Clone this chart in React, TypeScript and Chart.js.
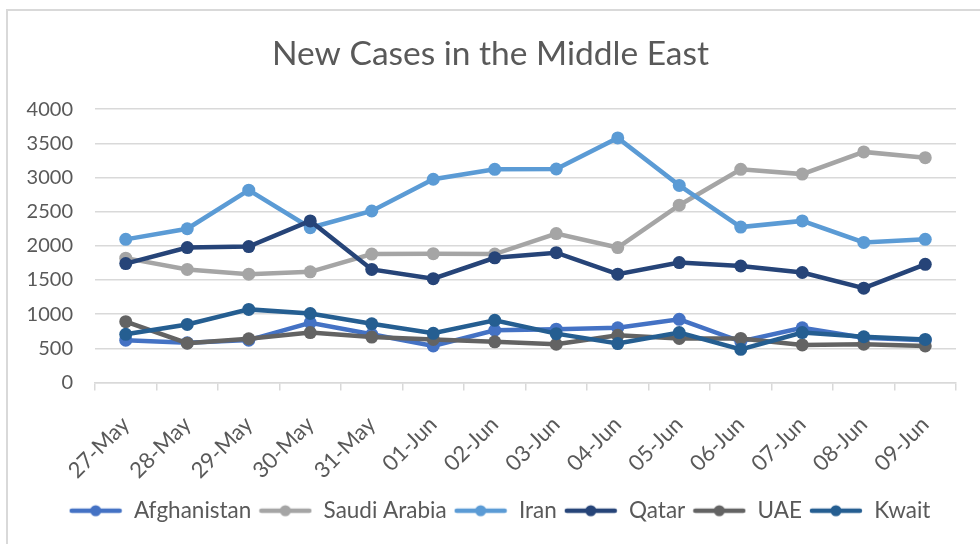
import React, { useEffect, useRef } from "react";
import { Chart, registerables } from "chart.js";

Chart.register(...registerables);

const categories = ["27-May", "28-May", "29-May", "30-May", "31-May", "01-Jun", "02-Jun", "03-Jun", "04-Jun", "05-Jun", "06-Jun", "07-Jun", "08-Jun", "09-Jun"];
const afghanistan = [620, 580, 620, 875, 705, 535, 765, 780, 800, 925, 600, 800, 655, 620];
const saudiArabia = [1820, 1655, 1585, 1620, 1880, 1885, 1880, 2180, 1975, 2595, 3120, 3050, 3375, 3290];
const iran = [2095, 2250, 2815, 2265, 2510, 2975, 3120, 3125, 3580, 2885, 2275, 2365, 2050, 2095];
const qatar = [1740, 1975, 1990, 2365, 1655, 1520, 1825, 1900, 1585, 1755, 1705, 1610, 1380, 1730];
const uae = [890, 575, 640, 730, 665, 630, 595, 560, 690, 645, 645, 550, 560, 535];
const kwait = [705, 850, 1070, 1010, 860, 720, 910, 715, 570, 730, 485, 730, 670, 630];

const seriesNames = ["Afghanistan", "Saudi Arabia", "Iran", "Qatar", "UAE", "Kwait"];
const seriesValues = [afghanistan, saudiArabia, iran, qatar, uae, kwait];
const seriesColors = ["#4472C4", "#A5A5A5", "#5B9BD5", "#264478", "#636363", "#255E91"];

const FONT = "Lato, 'Open Sans', sans-serif";
const TEXT = "#595959";

function legendIcon(color: string): HTMLCanvasElement {
  const c = document.createElement("canvas");
  c.width = 54;
  c.height = 14;
  const ctx = c.getContext("2d")!;
  ctx.strokeStyle = color;
  ctx.lineWidth = 4.5;
  ctx.lineCap = "round";
  ctx.beginPath();
  ctx.moveTo(3, 7);
  ctx.lineTo(51, 7);
  ctx.stroke();
  ctx.fillStyle = color;
  ctx.beginPath();
  ctx.arc(27, 7, 5.5, 0, Math.PI * 2);
  ctx.fill();
  return c;
}

const framePlugin = {
  id: "frame",
  afterLayout(chart: any) {
    if (chart.legend) {
      chart.legend.left += 9;
      chart.legend.right += 9;
    }
  },
  beforeDraw(chart: any) {
    const ctx = chart.ctx;
    ctx.save();
    ctx.fillStyle = "#ffffff";
    ctx.fillRect(0, 0, chart.width, chart.height);
    ctx.strokeStyle = "#d9d9d9";
    ctx.lineWidth = 2;
    ctx.beginPath();
    ctx.moveTo(7, chart.height + 5);
    ctx.lineTo(7, 10);
    ctx.lineTo(chart.width + 5, 10);
    ctx.stroke();
    ctx.restore();
  },
};

export default function App() {
  const ref = useRef<HTMLCanvasElement | null>(null);

  useEffect(() => {
    if (!ref.current) return;
    const icons = seriesColors.map(legendIcon);
    const chart = new Chart(ref.current, {
      type: "line",
      data: {
        labels: categories,
        datasets: seriesNames.map((name, i) => ({
          label: name,
          data: seriesValues[i],
          borderColor: seriesColors[i],
          backgroundColor: seriesColors[i],
          pointBackgroundColor: seriesColors[i],
          pointBorderWidth: 0,
          pointRadius: 6.5,
          borderWidth: 4.5,
          tension: 0,
          order: seriesNames.length - i,
        })),
      },
      options: {
        responsive: false,
        animation: false,
        layout: { padding: { left: 25, right: 24, top: 0, bottom: 12 } },
        plugins: {
          title: {
            display: true,
            text: "New Cases in the Middle East",
            color: TEXT,
            font: { family: FONT, size: 33.5, weight: "normal" },
            padding: { top: 34, bottom: 35 },
          },
          legend: {
            position: "bottom",
            labels: {
              usePointStyle: true,
              pointStyleWidth: 54,
              color: TEXT,
              font: { family: FONT, size: 22.5 },
              padding: 7,
              generateLabels: () =>
                seriesNames.map((name, i) => ({
                  text: name,
                  fillStyle: seriesColors[i],
                  strokeStyle: seriesColors[i],
                  lineWidth: 0,
                  pointStyle: icons[i],
                  fontColor: TEXT,
                  hidden: false,
                  datasetIndex: i,
                })),
            },
          },
          tooltip: { enabled: false },
        },
        scales: {
          y: {
            min: 0,
            max: 4000,
            ticks: {
              stepSize: 500,
              color: TEXT,
              font: { family: FONT, size: 20 },
              padding: 22,
              callback: (v: any) => String(v),
            },
            grid: { color: "#d9d9d9", lineWidth: 1.5, drawTicks: false },
            border: { display: false },
            afterFit: (s: any) => {
              s.width = 70;
            },
          },
          x: {
            offset: true,
            ticks: {
              color: TEXT,
              font: { family: FONT, size: 22 },
              maxRotation: 45,
              minRotation: 45,
              padding: 21,
              autoSkip: false,
            },
            grid: {
              offset: true,
              drawOnChartArea: false,
              drawTicks: true,
              tickLength: 8,
              color: "#d9d9d9",
              lineWidth: 1.5,
            },
            border: { color: "#d9d9d9", width: 1.5 },
            afterFit: (s: any) => {
              s.height = 110;
            },
          },
        },
      },
      plugins: [framePlugin],
    });
    return () => chart.destroy();
  }, []);

  return (
    <div style={{ position: "fixed", left: 0, top: 0, width: 980, height: 544 }}>
      <canvas ref={ref} width={980} height={544} />
    </div>
  );
}
